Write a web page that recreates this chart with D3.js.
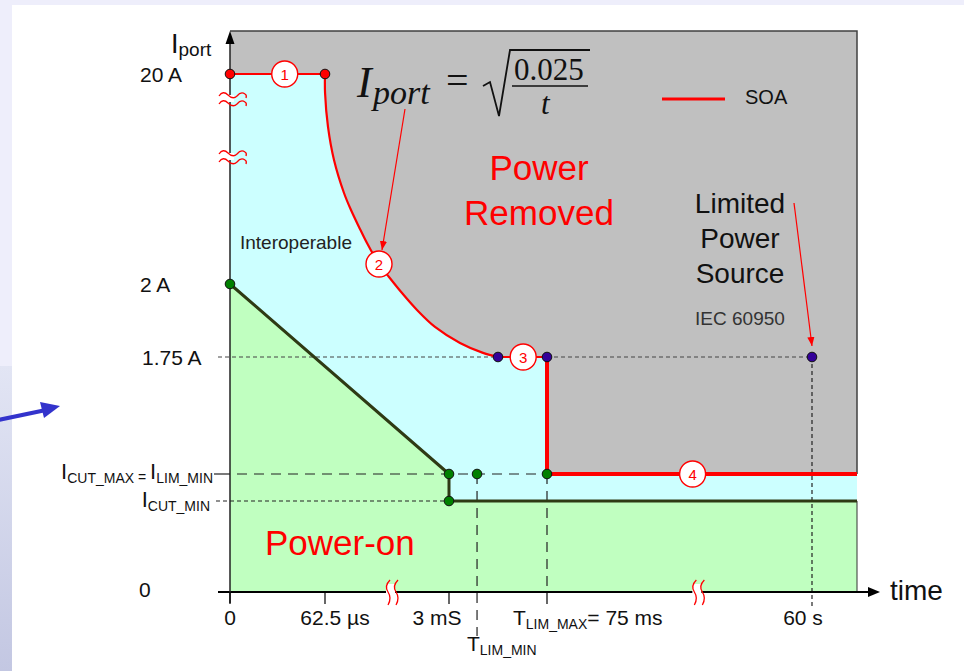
<!DOCTYPE html>
<html><head><meta charset="utf-8">
<script src="https://cdn.jsdelivr.net/npm/d3@7"></script>
<style>html,body{margin:0;padding:0;background:#fff;}svg{display:block;}</style>
</head><body>
<script>
// ---------------- DATA ----------------
// Schematic (broken) time axis key values, in seconds
const xKeyTimes = [0, 62.5e-6, 3e-3, 0.075, 60, 100];
// Schematic (broken) current axis key values, in amperes
const yKeyCurrents = [0, 0.35, 0.4, 1.75, 2, 20];
const I_CUT_MIN = 0.35, I_CUT_MAX = 0.4, T_LIM_MIN = 0.0236, T_LIM_MAX = 0.075, T_END = 100;

// SOA: flat part, curve Iport = sqrt(0.025/t) (as drawn), then limit steps
const soaStart = [[0, 20], [62.5e-6, 20]];
const soaCurve = [[62.5e-6, 20], [64e-6, 18.37], [133.6e-6, 15.46], [275.7e-6, 12.63], [512.6e-6, 9.80],
  [678.4e-6, 8.34], [868e-6, 6.89], [1057e-6, 5.51], [1342e-6, 3.71], [1579e-6, 2.60], [1887e-6, 1.969],
  [2242e-6, 1.911], [2668e-6, 1.853], [0.01108, 1.798], [0.02798, 1.764], [0.039, 1.75]];
const soaTail = [[0.039, 1.75], [0.075, 1.75], [0.075, 0.4], [100, 0.4]];
// Power-on boundary
const powerOnLine = [[0, 2], [3e-3, 0.4], [3e-3, 0.35], [100, 0.35]];
// marker dots
const redDots = [[0, 20], [62.5e-6, 20]];
const blueDots = [[0.039, 1.75], [0.075, 1.75], [60, 1.75]];
const greenDots = [[0, 2], [3e-3, 0.4], [T_LIM_MIN, 0.4], [0.075, 0.4], [3e-3, 0.35]];
// numbered markers
const markers = [{n: "1", t: 0.000036, i: 20}, {n: "2", t: 1342e-6, i: 3.71}, {n: "3", t: 0.0575, i: 1.75}, {n: "4", t: 33.0, i: 0.4}];
// axis break positions (time values)
const xBreaks = [1.65e-3, 34.3];
// tick labels
const xTickValues = [0, 62.5e-6, 3e-3, 0.075, 60];
const xTickLabels = ["0", "62.5 µs", "3 mS", "", "60 s"];
const yTickValues = [20, 2, 1.75, 0];
const yTickLabels = ["20 A", "2 A", "1.75 A", "0"];

// ---------------- SCALES ----------------
const x = d3.scaleLinear().domain(xKeyTimes).range([230, 325, 449, 547, 812, 857]);
const y = d3.scaleLinear().domain(yKeyCurrents).range([592, 501, 474, 357, 284, 74]);

const W = 964, H = 671;
const svg = d3.select("body").append("svg").attr("width", W).attr("height", H)
  .style("font-family", "'Liberation Sans', Arial, sans-serif");
const defs = svg.append("defs");
const grad = defs.append("linearGradient").attr("id", "lg").attr("x1", 0).attr("y1", 0).attr("x2", 0).attr("y2", 1);
grad.append("stop").attr("offset", "0%").attr("stop-color", "#e2e5f4");
grad.append("stop").attr("offset", "100%").attr("stop-color", "#c3c7e2");
defs.append("marker").attr("id", "ah0").attr("viewBox", "0 0 10 10").attr("refX", 10).attr("refY", 5)
  .attr("markerWidth", 9).attr("markerHeight", 9).attr("markerUnits", "userSpaceOnUse").attr("orient", "auto")
  .append("path").attr("d", "M0,1 L10,5 L0,9 Z").attr("fill", "red");

// page background strips
svg.append("rect").attr("x", 0).attr("y", 0).attr("width", W).attr("height", 5).attr("fill", "#eeeefb");
svg.append("rect").attr("x", 0).attr("y", 0).attr("width", 12).attr("height", 366).attr("fill", "#eeeefb");
svg.append("rect").attr("x", 0).attr("y", 366).attr("width", 12).attr("height", H - 366).attr("fill", "url(#lg)");
// blue pointer arrow at left
svg.append("line").attr("x1", -2).attr("y1", 420).attr("x2", 46).attr("y2", 410)
  .attr("stroke", "#3333cc").attr("stroke-width", 4);
svg.append("path").attr("d", "M40,402 L60,406 L44,418 Z").attr("fill", "#3333cc");

// ---------------- REGIONS ----------------
const x0 = x(0), xR = x(T_END), yTop = 31, yB = y(0);
svg.append("rect").attr("x", x0).attr("y", yTop).attr("width", xR - x0).attr("height", yB - yTop).attr("fill", "#c0c0c0");
svg.append("path").attr("d", `M${x0},${yTop} L${xR},${yTop} L${xR},${y(I_CUT_MAX)}`)
  .attr("fill", "none").attr("stroke", "#404040").attr("stroke-width", 1.5);

const pt = d => [x(d[0]), y(d[1])];
const linStr = pts => pts.map((d, k) => (k ? "L" : "M") + pt(d).join(",")).join("");
const curveStr = d3.line().x(d => x(d[0])).y(d => y(d[1])).curve(d3.curveCatmullRom.alpha(0.5))(soaCurve);
const soaPath = linStr(soaStart) + curveStr.replace(/^M[^CL]*/, "") + linStr(soaTail).replace(/^M/, "L");

// cyan (interoperable) area under SOA
svg.append("path").attr("d", soaPath + `L${xR},${yB}L${x0},${yB}Z`).attr("fill", "#ccffff");
// green power-on area
svg.append("path").attr("d", linStr(powerOnLine) + `L${xR},${yB}L${x0},${yB}Z`).attr("fill", "#c0ffc0");
svg.append("line").attr("x1", xR).attr("x2", xR).attr("y1", y(I_CUT_MIN)).attr("y2", yB).attr("stroke", "#333").attr("stroke-width", 1);

// ---------------- REFERENCE DASHED LINES ----------------
const shortDash = "4,3", longDash = "10,7";
function dline(x1, y1, x2, y2, dash, col) {
  svg.append("line").attr("x1", x1).attr("y1", y1).attr("x2", x2).attr("y2", y2)
    .attr("stroke", col || "#333").attr("stroke-width", 1.2).attr("stroke-dasharray", dash);
}
dline(218, y(1.75), x(0.039), y(1.75), shortDash, "#444");
dline(x(0.075), y(1.75), x(60), y(1.75), shortDash, "#444");
dline(x(60), y(1.75), x(60), 608, shortDash, "#222");
dline(237, y(I_CUT_MAX), x(0.075), y(I_CUT_MAX), longDash, "#222");
dline(216, y(I_CUT_MIN), x(3e-3), y(I_CUT_MIN), shortDash, "#222");
dline(x(T_LIM_MIN), y(I_CUT_MAX), x(T_LIM_MIN), 636, longDash, "#222");
dline(x(T_LIM_MAX), y(I_CUT_MAX), x(T_LIM_MAX), yB, longDash, "#222");
svg.append("line").attr("x1", 214).attr("x2", x0).attr("y1", y(I_CUT_MAX)).attr("y2", y(I_CUT_MAX)).attr("stroke", "#222").attr("stroke-width", 1.2);

// ---------------- LINES ----------------
svg.append("path").attr("d", linStr(powerOnLine)).attr("fill", "none").attr("stroke", "#2e3a14")
  .attr("stroke-width", 3).attr("stroke-linejoin", "round");
svg.append("path").attr("d", soaPath).attr("fill", "none").attr("stroke", "red").attr("stroke-width", 2.2);
svg.append("path").attr("d", linStr(soaTail.slice(1))).attr("fill", "none").attr("stroke", "red").attr("stroke-width", 4);

// ---------------- AXES ----------------
svg.append("line").attr("x1", 218).attr("x2", 872).attr("y1", yB).attr("y2", yB).attr("stroke", "#000").attr("stroke-width", 2);
svg.append("path").attr("d", `M868,${yB - 5} L880,${yB} L868,${yB + 5} Z`).attr("fill", "#000");
svg.append("line").attr("x1", x0).attr("x2", x0).attr("y1", 603).attr("y2", 40).attr("stroke", "#222").attr("stroke-width", 1.5);
svg.append("path").attr("d", `M${x0 - 4.5},44 L${x0},31 L${x0 + 4.5},44 Z`).attr("fill", "#000");
xTickValues.forEach(v => {
  if (v === 60) return;
  svg.append("line").attr("x1", x(v)).attr("x2", x(v)).attr("y1", yB).attr("y2", 604).attr("stroke", "#000").attr("stroke-width", 1.2);
});

// axis break marks
function ybreak(yc) {
  const w = d => `M219,${d} q4,-6 9,-1 q5,5 9,1 q4,-5 8,-2 q2,1 1,4`;
  svg.append("rect").attr("x", 226).attr("y", yc - 1).attr("width", 8).attr("height", 7).attr("fill", "#fff");
  svg.append("path").attr("d", w(yc)).attr("fill", "none").attr("stroke", "red").attr("stroke-width", 1.3);
  svg.append("path").attr("d", w(yc + 8)).attr("fill", "none").attr("stroke", "red").attr("stroke-width", 1.3);
}
ybreak(y(20) + 22); ybreak(y(20) + 80);
function xbreak(xc) {
  const w = d => `M${d + 2},580 q-6,6 -2,12 q4,6 0,13`;
  svg.append("rect").attr("x", xc - 2).attr("y", 584).attr("width", 9).attr("height", 16).attr("fill", "#fff");
  svg.append("path").attr("d", w(xc)).attr("fill", "none").attr("stroke", "red").attr("stroke-width", 1.3);
  svg.append("path").attr("d", w(xc + 8)).attr("fill", "none").attr("stroke", "red").attr("stroke-width", 1.3);
}
xBreaks.forEach(t => xbreak(x(t) - 4));

// ---------------- DOTS & MARKERS ----------------
function dots(data, fill) {
  svg.selectAll(null).data(data).enter().append("circle")
    .attr("cx", d => x(d[0])).attr("cy", d => y(d[1])).attr("r", 4.8)
    .attr("fill", fill).attr("stroke", "#111").attr("stroke-width", 1);
}
dots(redDots, "red"); dots(blueDots, "#330099"); dots(greenDots, "#008000");
const mk = svg.selectAll(null).data(markers).enter().append("g")
  .attr("transform", d => `translate(${x(d.t)},${y(d.i)})`);
mk.append("circle").attr("r", 13).attr("fill", "#fff").attr("stroke", "red").attr("stroke-width", 1.4);
mk.append("text").attr("text-anchor", "middle").attr("dy", 5.5).attr("font-size", 15).attr("fill", "red").text(d => d.n);

// ---------------- TICK LABELS ----------------
const yLabX = {20: 140, 2: 140, 1.75: 142, 0: 139};
yTickValues.forEach((v, k) => {
  svg.append("text").attr("x", yLabX[v]).attr("y", y(v) + (v === 0 ? 5 : 8)).attr("font-size", 21).attr("fill", "#111").text(yTickLabels[k]);
});
const xLabDx = [0, 10, -12, 0, -9];
xTickValues.forEach((v, k) => {
  if (!xTickLabels[k]) return;
  svg.append("text").attr("x", x(v) + xLabDx[k]).attr("y", 625).attr("text-anchor", "middle")
    .attr("font-size", 21).attr("fill", "#111").text(xTickLabels[k]);
});
function subLabel(xp, yp, parts, anchor) {
  const t = svg.append("text").attr("x", xp).attr("y", yp).attr("fill", "#111").attr("text-anchor", anchor || "start");
  parts.forEach(p => {
    t.append("tspan").attr("font-size", p[1]).attr("dy", p[2] || 0).text(p[0]);
  });
  return t;
}
subLabel(213, y(I_CUT_MAX) + 5, [["I", 22], ["CUT_MAX", 14, 4], [" = ", 14, -1], ["I", 22, -3], ["LIM_MIN", 14, 4]], "end");
subLabel(210, y(I_CUT_MIN) + 6, [["I", 22], ["CUT_MIN", 14, 4]], "end");
subLabel(513, 625, [["T", 21], ["LIM_MAX", 14, 4], ["= 75 ms", 21, -4]]);
subLabel(467, 651, [["T", 21], ["LIM_MIN", 14, 4]]);
subLabel(171, 53, [["I", 27], ["port", 19, 3]]);
svg.append("text").attr("x", 890).attr("y", 600).attr("font-size", 28).attr("fill", "#111").text("time");

// ---------------- FORMULA ----------------
const f = svg.append("g").attr("font-family", "'Liberation Serif', 'Times New Roman', serif").attr("fill", "#111");
f.append("text").attr("x", 357).attr("y", 97).attr("font-size", 44).attr("font-style", "italic").text("I");
f.append("text").attr("x", 373).attr("y", 104).attr("font-size", 34).attr("font-style", "italic").text("port");
f.append("text").attr("x", 446).attr("y", 94).attr("font-size", 40).text("=");
f.append("path").attr("d", "M483,86 L490,82 L499,116 L510,50 L590,50").attr("fill", "none").attr("stroke", "#111").attr("stroke-width", 1.8);
f.append("text").attr("x", 514).attr("y", 80).attr("font-size", 31).text("0.025");
f.append("line").attr("x1", 512).attr("x2", 588).attr("y1", 86).attr("y2", 86).attr("stroke", "#111").attr("stroke-width", 1.5);
f.append("text").attr("x", 541).attr("y", 114).attr("font-size", 31).attr("font-style", "italic").text("t");

// ---------------- LEGEND ----------------
svg.append("line").attr("x1", 662).attr("x2", 725).attr("y1", 99).attr("y2", 99).attr("stroke", "red").attr("stroke-width", 3);
svg.append("text").attr("x", 745).attr("y", 104).attr("font-size", 20).attr("fill", "#111").text("SOA");

// ---------------- ANNOTATIONS ----------------
const red = (tx, xp, yp, fs) => svg.append("text").attr("x", xp).attr("y", yp).attr("font-size", fs)
  .attr("fill", "red").attr("text-anchor", "middle").text(tx);
red("Power", 539, 180, 35); red("Removed", 539, 225, 35);
svg.append("text").attr("x", 265).attr("y", 555).attr("font-size", 35).attr("fill", "red").text("Power-on");
["Limited", "Power", "Source"].forEach((s, k) => svg.append("text").attr("x", 740).attr("y", 213 + k * 35)
  .attr("text-anchor", "middle").attr("font-size", 28).attr("fill", "#111").text(s));
svg.append("text").attr("x", 740).attr("y", 325).attr("text-anchor", "middle").attr("font-size", 19).attr("fill", "#333").text("IEC 60950");
svg.append("text").attr("x", 240).attr("y", 249).attr("font-size", 19).attr("fill", "#222").text("Interoperable");
svg.append("line").attr("x1", 405).attr("y1", 109).attr("x2", 382).attr("y2", 250).attr("stroke", "red").attr("stroke-width", 1.2).attr("marker-end", "url(#ah0)");
svg.append("line").attr("x1", 794).attr("y1", 203).attr("x2", 812).attr("y2", 346).attr("stroke", "red").attr("stroke-width", 1.2).attr("marker-end", "url(#ah0)");
</script>
</body></html>
